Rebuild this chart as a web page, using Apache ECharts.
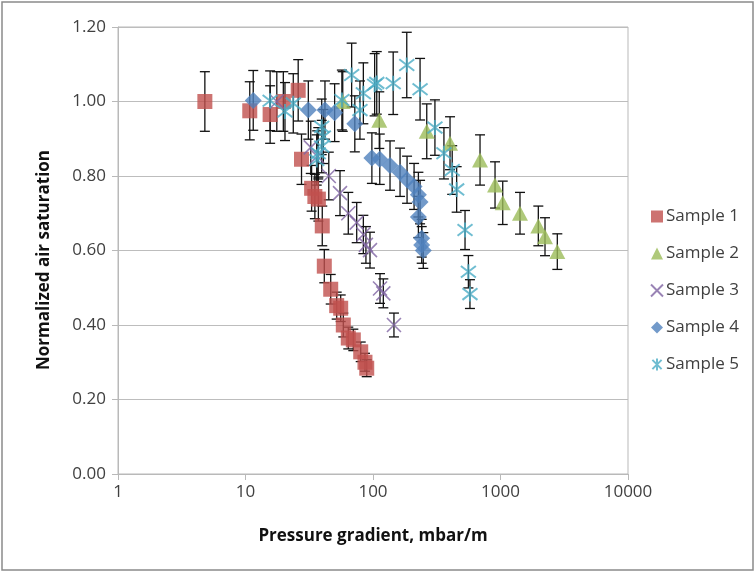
<!DOCTYPE html>
<html>
<head>
<meta charset="utf-8">
<script src="https://cdn.jsdelivr.net/npm/echarts@6/dist/echarts.min.js"></script>
<style>
  html, body { margin: 0; padding: 0; background: #ffffff; }
  #chart { width: 755px; height: 573px; }
</style>
</head>
<body>
<div id="chart"></div>
<script>
// Measured points: [pressure gradient (mbar/m), normalized air saturation]
const sample1 = [
  [4.8, 1.00], [10.8, 0.975], [15.6, 0.965], [19.8, 1.00], [25.9, 1.03],
  [27.5, 0.845], [33.0, 0.767], [35.0, 0.745], [37.3, 0.738], [40.0, 0.666],
  [41.5, 0.558], [46.6, 0.496], [51.9, 0.452], [55.8, 0.445], [58.5, 0.40],
  [64.0, 0.365], [70.1, 0.36], [80.1, 0.328], [86.5, 0.30], [89.3, 0.284]
];
const sample2 = [
  [57.9, 1.00], [112, 0.95], [264, 0.92], [402, 0.888], [691, 0.843],
  [906, 0.776], [1041, 0.728], [1422, 0.70], [1980, 0.666], [2234, 0.637],
  [2790, 0.597]
];
const sample3 = [
  [17.6, 1.00], [32.5, 0.877], [36.5, 0.853], [45.0, 0.80], [55.1, 0.754],
  [64.0, 0.70], [74.5, 0.675], [84.0, 0.643], [88.0, 0.615], [94.7, 0.601],
  [113.5, 0.498], [120.5, 0.485], [146, 0.40]
];
const sample4 = [
  [11.5, 1.003], [31.1, 0.977], [42.0, 0.977], [50.0, 0.97], [72.0, 0.94],
  [98.0, 0.848], [113, 0.845], [136, 0.828], [163, 0.81], [185, 0.79],
  [210, 0.772], [227, 0.75], [234, 0.73], [227, 0.69], [241, 0.633],
  [241, 0.615], [248, 0.60]
];
const sample5 = [
  [15.6, 1.002], [20.4, 0.973], [23.7, 0.995], [36.2, 0.843], [37.2, 0.861],
  [39.6, 0.879], [40.8, 0.906], [39.6, 0.932], [57.0, 1.004], [68.0, 1.071],
  [79.0, 0.977], [84.0, 1.022], [103, 1.045], [107, 1.05], [144, 1.049],
  [184, 1.098], [234, 1.033], [306, 0.93], [360, 0.861], [418, 0.816],
  [453, 0.764], [527, 0.655], [560, 0.543], [576, 0.483]
];

const seriesNames = ['Sample 1', 'Sample 2', 'Sample 3', 'Sample 4', 'Sample 5'];
const xTicks = [1, 10, 100, 1000, 10000];
const yTicks = [0, 0.2, 0.4, 0.6, 0.8, 1.0, 1.2];
const xTitle = 'Pressure gradient, mbar/m';
const yTitle = 'Normalized air saturation';

// Error bars are a fixed percentage of each value
const errorPercent = 8;

const FONT = '"Open Sans", "Liberation Sans", sans-serif';
const TEXT_COLOR = '#404040';

const allSamples = [sample1, sample2, sample3, sample4, sample5];

const markerStyles = [
  { symbol: 'rect', symbolSize: 15, itemStyle: { color: '#C0504D' } },
  { symbol: 'triangle', symbolSize: [16, 15], itemStyle: { color: '#9BBB59' } },
  { symbol: 'path://M0,0L10,10M10,0L0,10', symbolSize: 14,
    itemStyle: { color: 'rgba(0,0,0,0)', borderColor: '#8064A2', borderWidth: 1.6 } },
  { symbol: 'diamond', symbolSize: 17, itemStyle: { color: '#4F81BD' } },
  { symbol: 'path://M0,0L10,10M10,0L0,10M5,-1.5L5,11.5', symbolSize: 15,
    itemStyle: { color: 'rgba(0,0,0,0)', borderColor: '#4BACC6', borderWidth: 2 } }
];

// One error-bar row per point: [x, low, high]
const errorRows = [];
allSamples.forEach(function (s) {
  s.forEach(function (p) {
    const d = p[1] * errorPercent / 100;
    errorRows.push([p[0], p[1] - d, p[1] + d]);
  });
});

function renderErrorBar(params, api) {
  const lo = api.coord([api.value(0), api.value(1)]);
  const hi = api.coord([api.value(0), api.value(2)]);
  const half = 5;
  const style = { stroke: '#111111', lineWidth: 1.3, fill: null };
  return {
    type: 'group',
    children: [
      { type: 'line', shape: { x1: lo[0], y1: lo[1], x2: hi[0], y2: hi[1] }, style: style },
      { type: 'line', shape: { x1: lo[0] - half, y1: lo[1], x2: lo[0] + half, y2: lo[1] }, style: style },
      { type: 'line', shape: { x1: hi[0] - half, y1: hi[1], x2: hi[0] + half, y2: hi[1] }, style: style }
    ]
  };
}

const series = [{
  name: 'errors',
  type: 'custom',
  renderItem: renderErrorBar,
  data: errorRows,
  encode: { x: 0, y: [1, 2] },
  z: 1,
  silent: true
}];

seriesNames.forEach(function (name, i) {
  series.push(Object.assign({
    name: name,
    type: 'scatter',
    data: allSamples[i],
    z: 2 + i
  }, markerStyles[i]));
});

const chart = echarts.init(document.getElementById('chart'), null, { renderer: 'canvas' });
chart.setOption({
  animation: false,
  backgroundColor: '#ffffff',
  textStyle: { fontFamily: FONT },
  grid: {
    left: 118, right: 127, top: 27, bottom: 99,
    show: true, borderColor: '#B9B9B9', borderWidth: 1, backgroundColor: 'transparent'
  },
  graphic: [
    {
      type: 'rect',
      shape: { x: 2, y: 2, width: 751, height: 568 },
      style: { fill: null, stroke: '#8A8A8A', lineWidth: 1.5 },
      silent: true
    },
    {
      // vertical axis title
      type: 'text',
      x: 44, y: 260,
      rotation: Math.PI / 2,
      style: {
        text: yTitle,
        fontFamily: FONT, fontSize: 17, fontWeight: 'bold', fill: '#111111',
        align: 'center', verticalAlign: 'middle'
      },
      silent: true
    }
  ],
  legend: {
    data: seriesNames,
    orient: 'vertical',
    left: 645,
    top: 203,
    itemGap: 20,
    itemWidth: 12,
    itemHeight: 12,
    textStyle: { fontFamily: FONT, fontSize: 17, color: TEXT_COLOR, padding: [0, 0, 0, -2] }
  },
  xAxis: {
    type: 'log',
    logBase: 10,
    min: xTicks[0],
    max: xTicks[xTicks.length - 1],
    name: xTitle,
    nameLocation: 'middle',
    nameGap: 54,
    nameTextStyle: { fontFamily: FONT, fontSize: 17, fontWeight: 'bold', color: '#111111' },
    axisLine: { show: true, lineStyle: { color: '#B9B9B9', width: 1 } },
    axisTick: { show: true, inside: false, length: 6, lineStyle: { color: '#B9B9B9' } },
    minorTick: { show: false },
    splitLine: { show: false },
    axisLabel: {
      margin: 10, fontFamily: FONT, fontSize: 17, color: TEXT_COLOR,
      formatter: function (v) { return String(Math.round(v)); }
    }
  },
  yAxis: {
    type: 'value',
    min: yTicks[0],
    max: yTicks[yTicks.length - 1],
    interval: 0.2,
    axisLine: { show: true, lineStyle: { color: '#B9B9B9', width: 1 } },
    axisTick: { show: true, inside: false, length: 6, lineStyle: { color: '#B9B9B9' } },
    splitLine: { show: true, lineStyle: { color: '#BDBDBD', width: 1.2 } },
    axisLabel: {
      margin: 12, fontFamily: FONT, fontSize: 17, color: TEXT_COLOR,
      formatter: function (v) { return v.toFixed(2); }
    }
  },
  series: series
});
</script>
</body>
</html>
